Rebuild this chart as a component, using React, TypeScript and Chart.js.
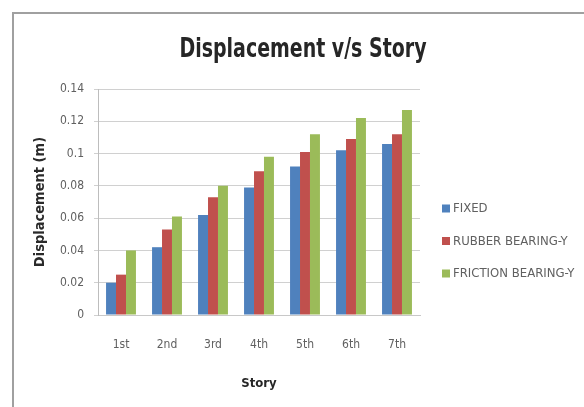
import React, { useEffect, useRef } from "react";
import { Chart, registerables } from "chart.js";

Chart.register(...registerables);

const categories = ["1st", "2nd", "3rd", "4th", "5th", "6th", "7th"];
const seriesNames = ["FIXED", "RUBBER BEARING-Y", "FRICTION BEARING-Y"];
const fixedValues = [0.020, 0.042, 0.062, 0.079, 0.092, 0.102, 0.106];
const rubberValues = [0.025, 0.053, 0.073, 0.089, 0.101, 0.109, 0.112];
const frictionValues = [0.040, 0.061, 0.080, 0.098, 0.112, 0.122, 0.127];
const yTickLabels = ["0", "0.02", "0.04", "0.06", "0.08", "0.1", "0.12", "0.14"];
const colors = ["#4F81BD", "#C0504D", "#9BBB59"];
const chartTitle = "Displacement v/s Story";

const FONT = "'DejaVu Sans Condensed', 'Liberation Sans Narrow', 'Liberation Sans', sans-serif";

const decorPlugin = {
  id: "decor",
  beforeDraw(chart: any) {
    const { ctx, width, height } = chart;
    ctx.save();
    ctx.fillStyle = "#ffffff";
    ctx.fillRect(0, 0, width, height);
    ctx.strokeStyle = "#a0a0a0";
    ctx.lineWidth = 2;
    ctx.beginPath();
    ctx.moveTo(13, height);
    ctx.lineTo(13, 13);
    ctx.lineTo(width, 13);
    ctx.stroke();
    ctx.restore();
  },
  afterDraw(chart: any) {
    const { ctx, chartArea } = chart;
    ctx.save();
    // title (condensed horizontally to mimic the narrow original face)
    ctx.fillStyle = "#262626";
    ctx.font = `bold 27px ${FONT}`;
    ctx.textBaseline = "alphabetic";
    ctx.textAlign = "center";
    const w = ctx.measureText(chartTitle).width;
    const sx = 247 / w;
    ctx.translate(303, 57);
    ctx.scale(sx, 1);
    ctx.fillText(chartTitle, 0, 0);
    ctx.restore();

    // legend
    ctx.save();
    ctx.font = `13px ${FONT}`;
    ctx.textAlign = "left";
    ctx.textBaseline = "middle";
    const baseX = chartArea.right + 22;
    const midY = 241;
    const spacing = 32.5;
    chart.data.datasets.forEach((ds: any, i: number) => {
      const y = midY + (i - 1) * spacing;
      ctx.fillStyle = ds.backgroundColor;
      ctx.fillRect(baseX, y - 4, 8, 8);
      ctx.fillStyle = "#606060";
      ctx.fillText(ds.label, baseX + 11, y + 0.5);
    });
    ctx.restore();
  },
};

export default function App() {
  const canvasRef = useRef<HTMLCanvasElement | null>(null);

  useEffect(() => {
    const canvas = canvasRef.current;
    if (!canvas) return;
    const chart = new Chart(canvas, {
      type: "bar",
      data: {
        labels: categories,
        datasets: [
          { label: seriesNames[0], data: fixedValues, backgroundColor: colors[0] },
          { label: seriesNames[1], data: rubberValues, backgroundColor: colors[1] },
          { label: seriesNames[2], data: frictionValues, backgroundColor: colors[2] },
        ],
      },
      options: {
        responsive: false,
        animation: false,
        events: [],
        layout: { padding: { left: 0, right: 164, top: 89, bottom: 0 } },
        datasets: { bar: { barPercentage: 1, categoryPercentage: 0.65 } },
        plugins: {
          legend: { display: false },
          title: { display: false },
          tooltip: { enabled: false },
        },
        scales: {
          x: {
            grid: { display: false, drawTicks: false },
            border: { display: true, color: "#c8c8c8" },
            ticks: { color: "#606060", font: { family: FONT, size: 12 }, padding: 23, maxRotation: 0 },
            title: {
              display: true,
              text: "Story",
              color: "#262626",
              font: { family: FONT, size: 13, weight: "bold" },
              padding: { top: 0, bottom: 16 },
            },
            afterFit(scale: any) {
              scale.height = 92;
            },
          },
          y: {
            min: 0,
            max: 0.14,
            ticks: {
              stepSize: 0.02,
              color: "#606060",
              font: { family: FONT, size: 12 },
              padding: 10,
              callback: (_v: any, i: number) => yTickLabels[i],
            },
            grid: { color: "#d0d0d0", tickLength: 4 },
            border: { display: true, color: "#bdbdbd" },
            title: {
              display: true,
              text: "Displacement (m)",
              color: "#2a2a2a",
              font: { family: FONT, size: 14.5, weight: "bold" },
              padding: { top: 32, bottom: 0 },
            },
            afterFit(scale: any) {
              scale.width = 98;
            },
          },
        },
      },
      plugins: [decorPlugin],
    });
    return () => chart.destroy();
  }, []);

  return (
    <div style={{ position: "fixed", left: 0, top: 0, width: 584, height: 407, overflow: "hidden" }}>
      <canvas ref={canvasRef} width={584} height={407} style={{ display: "block" }} />
    </div>
  );
}
